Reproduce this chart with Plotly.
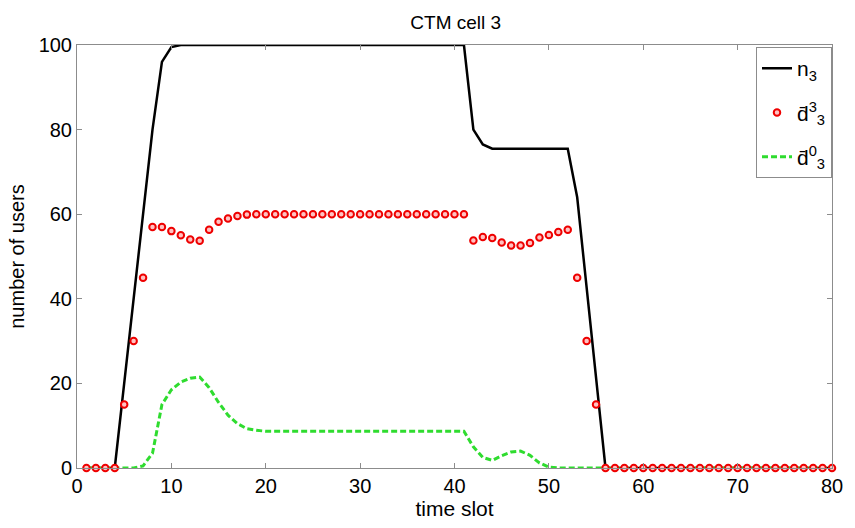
import plotly.graph_objects as go

# time slots
t = list(range(1, 81))

# n_3 : number of users in cell 3 (black solid line)
n3 = [0, 0, 0, 0, 20, 40, 60, 80, 96, 99.5,
      100, 100, 100, 100, 100, 100, 100, 100, 100, 100,
      100, 100, 100, 100, 100, 100, 100, 100, 100, 100,
      100, 100, 100, 100, 100, 100, 100, 100, 100, 100,
      100, 80, 76.5, 75.5, 75.5, 75.5, 75.5, 75.5, 75.5, 75.5,
      75.5, 75.5, 64, 43, 21, 0, 0, 0, 0, 0,
      0, 0, 0, 0, 0, 0, 0, 0, 0, 0,
      0, 0, 0, 0, 0, 0, 0, 0, 0, 0]

# d-bar_3^3 (red markers)
d33 = [0, 0, 0, 0, 15, 30, 45, 57, 57, 56,
       55, 54, 53.7, 56.3, 58.2, 59, 59.6, 59.9, 60, 60,
       60, 60, 60, 60, 60, 60, 60, 60, 60, 60,
       60, 60, 60, 60, 60, 60, 60, 60, 60, 60,
       60, 53.8, 54.6, 54.4, 53.3, 52.6, 52.6, 53.2, 54.5, 55.1,
       55.8, 56.3, 45, 30, 15, 0, 0, 0, 0, 0,
       0, 0, 0, 0, 0, 0, 0, 0, 0, 0,
       0, 0, 0, 0, 0, 0, 0, 0, 0, 0]

# d-bar_3^0 (green dashed line)
d30 = [0, 0, 0, 0, 0, 0, 0.5, 3.5, 15, 18.5,
       20.3, 21.2, 21.5, 19, 15.5, 12.5, 10.5, 9.3, 8.9, 8.7,
       8.7, 8.7, 8.7, 8.7, 8.7, 8.7, 8.7, 8.7, 8.7, 8.7,
       8.7, 8.7, 8.7, 8.7, 8.7, 8.7, 8.7, 8.7, 8.7, 8.7,
       8.7, 5, 2.5, 1.8, 2.9, 3.8, 4.0, 3.0, 1.2, 0.2,
       0, 0, 0, 0, 0, 0, 0, 0, 0, 0,
       0, 0, 0, 0, 0, 0, 0, 0, 0, 0,
       0, 0, 0, 0, 0, 0, 0, 0, 0, 0]

x_ticks = [0, 10, 20, 30, 40, 50, 60, 70, 80]
y_ticks = [0, 20, 40, 60, 80, 100]

FONT = "Liberation Sans, Arial, Helvetica, sans-serif"
AXIS_GRAY = "#8c8c8c"

fig = go.Figure()
fig.add_trace(go.Scatter(
    x=t, y=n3, mode="lines", name="n<sub>3</sub>",
    line=dict(color="black", width=2.5), legendgroup="a",
    legendrank=1, cliponaxis=False))
fig.add_trace(go.Scatter(
    x=t, y=d30, mode="lines", name="d\u0304<sup>0</sup><sub>3</sub>",
    line=dict(color="#2fdc2f", width=3, dash="6px,3px"),
    legendgroup="c", legendrank=3, cliponaxis=False))
fig.add_trace(go.Scatter(
    x=t, y=d33, mode="markers", name="d\u0304<sup>3</sup><sub>3</sub>",
    marker=dict(symbol="circle", size=6.5, color="#ffc2c2",
                line=dict(color="#ee0000", width=2)),
    legendgroup="b", legendrank=2, cliponaxis=False))

fig.update_layout(
    width=855, height=528,
    margin=dict(l=77, r=21, t=45, b=52),
    paper_bgcolor="white", plot_bgcolor="white",
    font=dict(family=FONT, color="black", size=20),
    title=dict(text="CTM cell 3", x=0.533, xanchor="center",
               y=1 - 22 / 528, yanchor="middle",
               font=dict(size=19, family=FONT, color="black")),
    showlegend=True,
    legend=dict(x=1, xanchor="right", y=0.995, yanchor="top",
                bgcolor="white", bordercolor=AXIS_GRAY, borderwidth=1,
                font=dict(size=21, family=FONT), tracegroupgap=14,
                traceorder="grouped", itemwidth=30),
)
fig.update_xaxes(
    range=[0, 80], tickvals=x_ticks, ticks="inside", ticklen=5,
    tickcolor=AXIS_GRAY, showline=True, linecolor=AXIS_GRAY, linewidth=1,
    mirror="ticks", showgrid=False, zeroline=False,
    tickfont=dict(size=20, family=FONT, color="black"),
    title=dict(text="time slot", font=dict(size=21, family=FONT), standoff=4),
)
fig.update_yaxes(
    range=[0, 100], tickvals=y_ticks, ticks="inside", ticklen=5,
    tickcolor=AXIS_GRAY, showline=True, linecolor=AXIS_GRAY, linewidth=1,
    mirror="ticks", showgrid=False, zeroline=False,
    tickfont=dict(size=20, family=FONT, color="black"),
    title=dict(text="number of users", font=dict(size=20, family=FONT), standoff=8),
)

fig.write_html("out.html")
